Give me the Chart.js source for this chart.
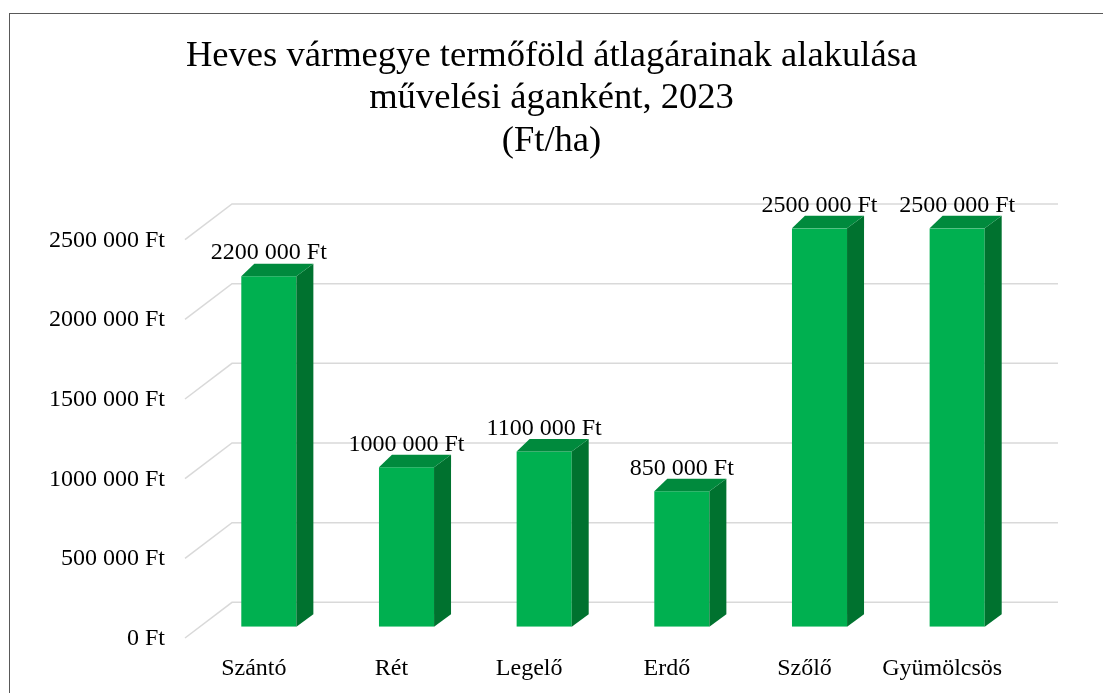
<!DOCTYPE html>
<html>
<head>
<meta charset="utf-8">
<script src="https://cdn.jsdelivr.net/npm/chart.js@4.4.1/dist/chart.umd.min.js"></script>
<style>
  html, body { margin: 0; padding: 0; background: #ffffff; }
  #wrap { width: 1103px; height: 693px; }
</style>
</head>
<body>
<div id="wrap"><canvas id="c" width="1103" height="693"></canvas></div>
<script>
const titleLines = ['Heves vármegye termőföld átlagárainak alakulása', 'művelési áganként, 2023', '(Ft/ha)'];
const categories = ['Szántó', 'Rét', 'Legelő', 'Erdő', 'Szőlő', 'Gyümölcsös'];
const prices = [2200000, 1000000, 1100000, 850000, 2500000, 2500000];
const yTickValues = [0, 500000, 1000000, 1500000, 2000000, 2500000];

const FONT = 'Liberation Serif';
const fmt = v => v === 0 ? '0 Ft' : Math.floor(v / 1000) + ' ' + String(v % 1000).padStart(3, '0') + ' Ft';

const threeD = {
  id: 'threeD',
  beforeDraw(chart) {
    const ctx = chart.ctx;
    ctx.save();
    ctx.fillStyle = '#ffffff';
    ctx.fillRect(0, 0, chart.width, chart.height);
    ctx.strokeStyle = '#595959';
    ctx.lineWidth = 1;
    ctx.strokeRect(9.5, 13.5, 3000, 3000);
    ctx.restore();
  },
  beforeDatasetsDraw(chart) {
    const ctx = chart.ctx, y = chart.scales.y, a = chart.chartArea;
    ctx.save();
    ctx.strokeStyle = '#d9d9d9';
    ctx.lineWidth = 1.5;
    y.ticks.forEach(t => {
      const yp = y.getPixelForValue(t.value);
      ctx.beginPath();
      ctx.moveTo(a.left - 15, yp + 11.3);
      ctx.lineTo(a.left + 32, yp - 24.4);
      ctx.lineTo(a.right + 32, yp - 24.4);
      ctx.stroke();
    });
    ctx.restore();
  },
  afterDatasetsDraw(chart) {
    const ctx = chart.ctx;
    const meta = chart.getDatasetMeta(0);
    const dxL = 13, dxR = 17, dy = -12.5;
    ctx.save();
    meta.data.forEach((bar, i) => {
      const p = bar.getProps(['x', 'y', 'base', 'width'], true);
      const l = p.x - p.width / 2, r = p.x + p.width / 2, t = p.y, b = p.base;
      ctx.fillStyle = '#00722f';
      ctx.beginPath();
      ctx.moveTo(r, t); ctx.lineTo(r + dxR, t + dy); ctx.lineTo(r + dxR, b + dy); ctx.lineTo(r, b);
      ctx.closePath(); ctx.fill();
      ctx.fillStyle = '#008a3d';
      ctx.beginPath();
      ctx.moveTo(l, t); ctx.lineTo(l + dxL, t + dy); ctx.lineTo(r + dxR, t + dy); ctx.lineTo(r, t);
      ctx.closePath(); ctx.fill();
    });
    ctx.fillStyle = '#000000';
    ctx.font = '24px "' + FONT + '"';
    ctx.textAlign = 'center';
    ctx.textBaseline = 'middle';
    meta.data.forEach((bar, i) => {
      const p = bar.getProps(['x', 'y'], true);
      ctx.fillText(fmt(chart.data.datasets[0].data[i]), p.x, p.y - 23);
    });
    ctx.restore();
  }
};

new Chart(document.getElementById('c'), {
  type: 'bar',
  data: {
    labels: categories,
    datasets: [{
      data: prices,
      backgroundColor: '#00b050',
      borderWidth: 0,
      barPercentage: 0.4,
      categoryPercentage: 1.0
    }]
  },
  options: {
    responsive: false,
    animation: false,
    devicePixelRatio: 1,
    layout: { padding: 0 },
    plugins: {
      legend: { display: false },
      tooltip: { enabled: false },
      title: {
        display: true,
        text: titleLines,
        color: '#000000',
        font: { family: FONT, size: 36.6, weight: 'normal', lineHeight: 1.16 },
        padding: { top: 35, bottom: 66 }
      }
    },
    scales: {
      x: {
        grid: { display: false, drawTicks: false },
        border: { display: false },
        ticks: {
          color: '#000000',
          font: { family: FONT, size: 24 },
          padding: 28,
          labelOffset: -15,
          maxRotation: 0
        },
        afterFit(scale) { scale.height = 66.3; }
      },
      y: {
        min: 0,
        max: 2500000,
        grid: { display: false, drawTicks: false },
        border: { display: false },
        afterBuildTicks(scale) { scale.ticks = yTickValues.map(v => ({ value: v })); },
        ticks: {
          color: '#000000',
          font: { family: FONT, size: 24 },
          padding: 35,
          labelOffset: 12,
          callback: v => fmt(v)
        },
        afterFit(scale) { scale.width = 200; }
      },
      yRight: {
        position: 'right',
        display: true,
        min: 0,
        max: 2500000,
        grid: { display: false, drawTicks: false },
        border: { display: false },
        ticks: { display: false },
        afterFit(scale) { scale.width = 77; }
      }
    }
  },
  plugins: [threeD]
});
</script>
</body>
</html>
